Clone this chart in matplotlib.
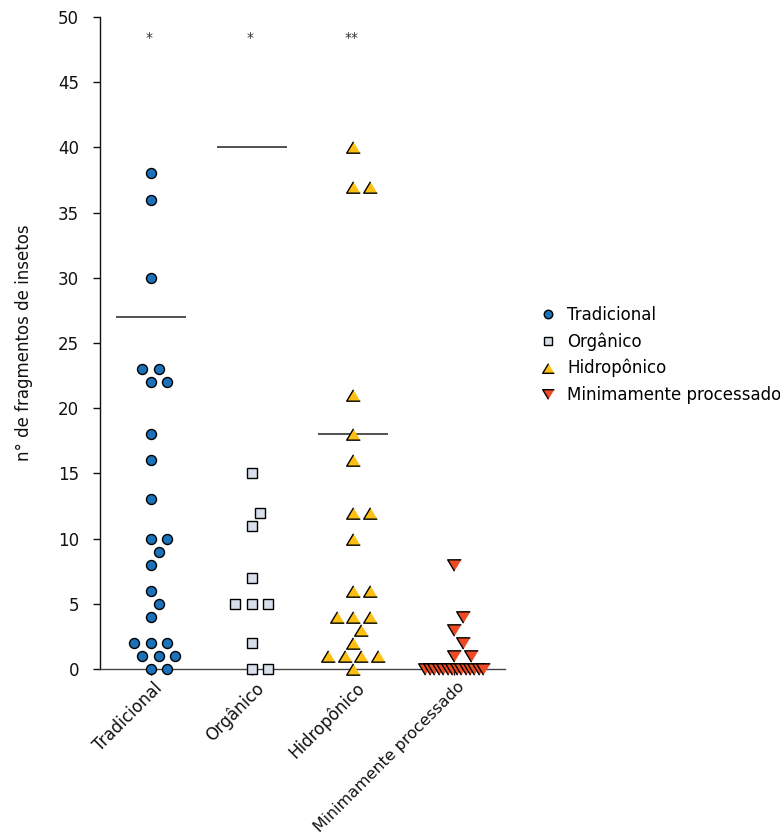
import numpy as np
import matplotlib.pyplot as plt
from matplotlib.lines import Line2D
from matplotlib.transforms import ScaledTranslation

plt.rcParams['font.family'] = ['DejaVu Sans']

# data
groups = ["Tradicional", "Orgânico", "Hidropônico", "Minimamente processado"]
tradicional = [38, 36, 30, 23, 23, 22, 22, 18, 16, 13, 10, 10, 9, 8, 6, 5, 4,
               2, 2, 2, 1, 1, 1, 0, 0]
organico = [15, 12, 11, 7, 5, 5, 5, 2, 0, 0]
hidroponico = [40, 37, 37, 21, 18, 16, 12, 12, 10, 6, 6, 4, 4, 4, 3, 2,
               1, 1, 1, 1, 0]
minimamente = [8, 4, 3, 2, 1, 1, 0, 0, 0, 0, 0, 0, 0, 0, 0, 0, 0, 0, 0, 0]
ref_lines = [27, 40, 18, None]
stars = ["*", "*", "**", ""]
yticks = list(range(0, 55, 5))

colors = ["#1b72b9", "#d6dfea", "#fdc012", "#ee4b25"]
tri_up = [(0, 1), (-1.2, -1), (1.2, -1)]
tri_down = [(0, -1), (-1.2, 1), (1.2, 1)]
markers = ["o", "s", tri_up, tri_down]
msizes = [7.2, 7, 9.8, 9.8]


def swarm(vals, px_x, px_y, step=8.25, wx=16.0, wy=14.0, kmax=4, crowd=6, spread=29.0):
    # prism-like column scatter: points on a half-step grid, crowded rows squeezed
    vals = np.asarray(vals, float)
    off = np.zeros(len(vals))
    uniq, counts = np.unique(vals, return_counts=True)
    crowded = [u for u, c in zip(uniq, counts) if c >= crowd]
    for v in crowded:
        idx = np.where(vals == v)[0]
        off[idx] = np.linspace(-spread, spread, len(idx)) / px_x
    cands = [0]
    for k in range(1, kmax + 1):
        cands += [k, -k]
    placed = []
    for i in np.argsort(vals, kind="stable"):
        if vals[i] in crowded:
            continue
        y = vals[i] * px_y
        best, bestx, bestd = None, 0.0, -1
        for k in cands:
            x = k * step
            d = min([((x - p) / wx) ** 2 + ((y - q) / wy) ** 2 for p, q in placed], default=9)
            if d >= 1:
                best = x
                break
            if d > bestd:
                bestd, bestx = d, x
        if best is None:
            best = bestx
        placed.append((best, y))
        off[i] = best / px_x
    return off


fig = plt.figure(figsize=(7.8, 8.38), dpi=100)
ax = fig.add_axes([100 / 780, 169 / 838, 405 / 780, 652 / 838])
ax.set_xlim(-0.5, 3.5)
ax.set_ylim(0, 50)

# pixel size of one data unit, for the swarm layout
p0 = ax.transData.transform((0, 0))
p1 = ax.transData.transform((1, 1))
px_x, px_y = p1 - p0

series = [tradicional, organico, hidroponico, minimamente]
for i, vals in enumerate(series):
    xs = i + swarm(vals, px_x, px_y)
    ax.plot(xs, vals, linestyle="none", marker=markers[i], ms=msizes[i],
            mfc=colors[i], mec="black", mew=1.0, clip_on=False, zorder=4)
    if ref_lines[i] is not None:
        ax.hlines(ref_lines[i], i - 0.345, i + 0.345, color="#222222", lw=1.1, zorder=3)
    if stars[i]:
        ax.text(i - 0.02, 48.1, stars[i], ha="center", va="baseline",
                fontsize=10, color="#333333")

ax.spines["top"].set_visible(False)
ax.spines["right"].set_visible(False)
ax.spines["left"].set_color("#111111")
ax.spines["bottom"].set_color("#444444")
ax.spines["left"].set_linewidth(1.0)
ax.spines["bottom"].set_linewidth(1.0)

ax.set_yticks(yticks)
ax.set_xticks(range(len(groups)))
ax.set_xticklabels(groups, rotation=45, ha="right", va="top", rotation_mode="anchor")
ax.tick_params(axis="y", direction="out", length=5, width=1, pad=10, labelsize=12,
               colors="#111111")
ax.tick_params(axis="x", direction="out", length=4, width=1, pad=3, labelsize=12,
               colors="#111111")
shift = ScaledTranslation(2 / 72, 0, fig.dpi_scale_trans)
for lab in ax.get_xticklabels():
    lab.set_transform(lab.get_transform() + shift)
    if len(lab.get_text()) > 15:
        lab.set_fontsize(11.4)

ax.set_ylabel("n° de fragmentos de insetos", fontsize=12, color="#111111")
ax.yaxis.set_label_coords(-0.165, 0.5)

handles = [Line2D([], [], linestyle="none", marker=markers[i], ms=msizes[i] * 0.85,
                  mfc=colors[i], mec="black", mew=1.0) for i in range(len(groups))]
ax.legend(handles, groups, loc="center left", bbox_to_anchor=(1.09, 0.482),
          frameon=False, fontsize=12, borderpad=0, borderaxespad=0,
          handlelength=0.8, handletextpad=0.75, labelspacing=0.5)

fig.savefig("out.png", dpi=100)
